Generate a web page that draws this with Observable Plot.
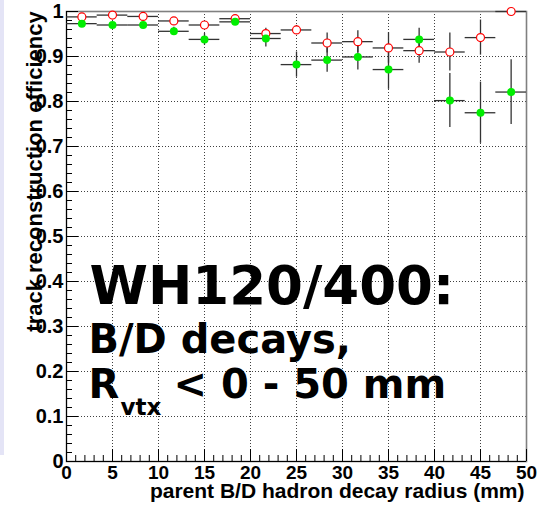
<!DOCTYPE html>
<html><head><meta charset="utf-8">
<script src="https://cdn.jsdelivr.net/npm/d3@7"></script>
<script src="https://cdn.jsdelivr.net/npm/@observablehq/plot@0.6"></script>
<style>
html,body{margin:0;padding:0;background:#fff;overflow:hidden;}
#wrap{position:relative;width:549px;height:509px;}
#strip{position:absolute;left:0;top:0;width:4px;height:455px;background:#e4e4f6;z-index:2;}
</style></head><body>
<div id="wrap"></div>
<script>
// bin centres (mm) of the parent B/D hadron decay radius
const binCenters = [1.67, 5, 8.33, 11.67, 15, 18.33, 21.67, 25, 28.33, 31.67, 35, 38.33, 41.67, 45, 48.33];
const binHalfWidth = 1.667;
// red open circles
const redEff = [0.988, 0.992, 0.989, 0.979, 0.970, 0.984, 0.951, 0.959, 0.930, 0.933, 0.919, 0.913, 0.910, 0.942, 1.0];
const redErr = [0.004, 0.003, 0.004, 0.006, 0.008, 0.005, 0.012, 0.010, 0.022, 0.024, 0.034, 0.028, 0.042, 0.039, 0.0];
// green full circles
const greenEff = [0.973, 0.970, 0.970, 0.956, 0.938, 0.977, 0.940, 0.882, 0.892, 0.899, 0.871, 0.938, 0.802, 0.775, 0.821];
const greenErr = [0.004, 0.004, 0.004, 0.009, 0.013, 0.008, 0.019, 0.028, 0.027, 0.029, 0.044, 0.025, 0.060, 0.068, 0.072];
// axes
const xTicks = [0, 5, 10, 15, 20, 25, 30, 35, 40, 45, 50];
const yTicks = [0, 0.1, 0.2, 0.3, 0.4, 0.5, 0.6, 0.7, 0.8, 0.9, 1];
const xGrid = [5, 10, 15, 20, 25, 30, 35, 40, 45];
const yGrid = [0.1, 0.2, 0.3, 0.4, 0.5, 0.6, 0.7, 0.8, 0.9];
const xTitle = "parent B/D hadron decay radius (mm)";
const yTitle = "track reconstruction efficiency";
const line1 = "WH120/400:";
const line2 = "B/D decays,";
const line3a = "R";
const line3sub = "vtx";
const line3b = "< 0 - 50 mm";

const xMinor = d3.range(1, 50).filter(i => i % 5 !== 0);
const yMinor = d3.range(1, 50).filter(i => i % 5 !== 0).map(i => i / 50);

const rows = binCenters.map((c, i) => ({
  x: c, lo: c - binHalfWidth, hi: c + binHalfWidth,
  red: redEff[i], redLo: redEff[i] - redErr[i], redHi: Math.min(1, redEff[i] + redErr[i]),
  green: greenEff[i], greenLo: greenEff[i] - greenErr[i], greenHi: greenEff[i] + greenErr[i]
}));

const W = 549, H = 509, mL = 66, mR = 23, mT = 11, mB = 48;
const innerW = W - mL - mR, innerH = H - mT - mB;
const labelFont = "'Liberation Sans', Arial, Helvetica, sans-serif";
const bigFont = "'DejaVu Sans', Verdana, sans-serif";
const ebStroke = "#333";

const chart = Plot.plot({
  width: W, height: H,
  marginLeft: mL, marginRight: mR, marginTop: mT, marginBottom: mB,
  x: {domain: [0, 50], axis: null},
  y: {domain: [0, 1], axis: null},
  style: {fontFamily: labelFont, background: "white", overflow: "visible"},
  marks: [
    Plot.ruleX(xGrid, {x: d => d, stroke: "#000", strokeOpacity: 0.75, strokeDasharray: "1,2"}),
    Plot.ruleY(yGrid, {y: d => d, stroke: "#000", strokeOpacity: 0.75, strokeDasharray: "1,2"}),
    Plot.frame({stroke: "#808080", strokeWidth: 1.6}),
    Plot.ruleX([0], {x: d => d, stroke: "#000"}),
    Plot.ruleY([0], {y: d => d, stroke: "#000"}),
    // y ticks (inward)
    Plot.tickY(yTicks, {y: d => d, stroke: "#000", insetRight: innerW - 12}),
    Plot.tickY(yMinor, {y: d => d, stroke: "#000", insetRight: innerW - 6}),
    // x ticks (inward)
    Plot.tickX(xTicks, {x: d => d, stroke: "#000", insetTop: innerH - 12}),
    Plot.tickX(xMinor, {x: d => d, stroke: "#000", insetTop: innerH - 6}),
    // tick labels
    Plot.text(xTicks, {x: d => d, text: d => String(d), frameAnchor: "bottom", lineAnchor: "bottom",
      dy: 17, fontSize: 19, fontWeight: "bold", fill: "#000"}),
    Plot.text(yTicks, {y: d => d, text: d => String(d), frameAnchor: "left", textAnchor: "end",
      lineAnchor: "middle", dx: -3, fontSize: 20, fontWeight: "bold", fill: "#000"}),
    // axis titles
    Plot.text([xTitle], {text: d => d, frameAnchor: "bottom-right", textAnchor: "end", lineAnchor: "bottom",
      dx: -2, dy: 36, fontSize: 21, fontWeight: "bold", fill: "#000"}),
    Plot.text([yTitle], {text: d => d, frameAnchor: "left", textAnchor: "middle", lineAnchor: "bottom",
      rotate: -90, dx: -25, dy: -65, fontSize: 22, fontWeight: "bold", fill: "#000"}),
    // annotation
    Plot.text([line1], {text: d => d, frameAnchor: "top-left", textAnchor: "start", lineAnchor: "bottom",
      dx: 23, dy: 292, fontSize: 53, fontWeight: "bold", fontFamily: bigFont, fill: "#000"}),
    Plot.text([line2], {text: d => d, frameAnchor: "top-left", textAnchor: "start", lineAnchor: "bottom",
      dx: 22, dy: 341, fontSize: 40, fontWeight: "bold", fontFamily: bigFont, fill: "#000"}),
    Plot.text([line3a], {text: d => d, frameAnchor: "top-left", textAnchor: "start", lineAnchor: "bottom",
      dx: 22, dy: 386, fontSize: 40, fontWeight: "bold", fontFamily: bigFont, fill: "#000"}),
    Plot.text([line3sub], {text: d => d, frameAnchor: "top-left", textAnchor: "start", lineAnchor: "bottom",
      dx: 54, dy: 403, fontSize: 23, fontWeight: "bold", fontFamily: bigFont, fill: "#000"}),
    Plot.text([line3b], {text: d => d, frameAnchor: "top-left", textAnchor: "start", lineAnchor: "bottom",
      dx: 107, dy: 386, fontSize: 40, fontWeight: "bold", fontFamily: bigFont, fill: "#000"}),
    // error bars
    Plot.ruleY(rows, {y: "red", x1: "lo", x2: "hi", stroke: ebStroke, strokeWidth: 1.3}),
    Plot.ruleX(rows, {x: "x", y1: "redLo", y2: "redHi", stroke: ebStroke, strokeWidth: 1.3}),
    Plot.ruleY(rows, {y: "green", x1: "lo", x2: "hi", stroke: ebStroke, strokeWidth: 1.3}),
    Plot.ruleX(rows, {x: "x", y1: "greenLo", y2: "greenHi", stroke: ebStroke, strokeWidth: 1.3}),
    // markers
    Plot.dot(rows, {x: "x", y: "red", r: 4, stroke: "#ff0000", strokeWidth: 1.2, fill: "white"}),
    Plot.dot(rows, {x: "x", y: "green", r: 4, fill: "#00ee00", stroke: "none"})
  ]
});
const wrap = document.getElementById("wrap");
wrap.appendChild(chart);
const strip = document.createElement("div");
strip.id = "strip";
wrap.appendChild(strip);
</script>
</body></html>
